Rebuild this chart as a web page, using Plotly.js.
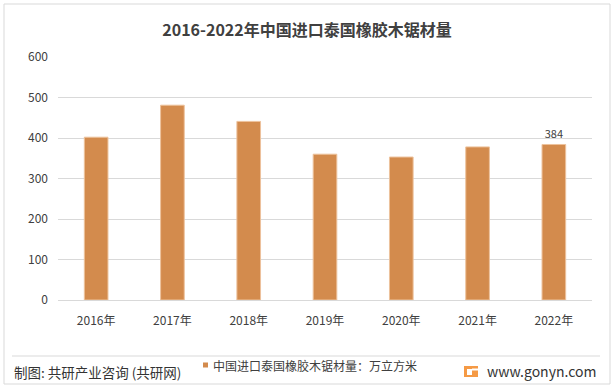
<!DOCTYPE html>
<html>
<head>
<meta charset="utf-8">
<script src="https://cdn.plot.ly/plotly-3.0.1.min.js"></script>
<style>html,body{margin:0;padding:0;background:#fff;}#chart{width:614px;height:389px;}</style>
</head>
<body>
<div id="chart"></div>
<script>
const years = ['2016年','2017年','2018年','2019年','2020年','2021年','2022年'];
const volumes = [402, 481, 441, 360, 353, 378, 384];
const seriesName = '中国进口泰国橡胶木锯材量：万立方米';
const titleText = '2016-2022年中国进口泰国橡胶木锯材量';
const sourceText = '制图: 共研产业咨询 (共研网)';
const siteText = 'www.gonyn.com';
const yTicks = [0, 100, 200, 300, 400, 500, 600];

const W = 614, H = 389;
const L = 58, R = 592, T = 57, B = 300;
const px2x = p => (p - L) / (R - L);
const py2y = p => (B - p) / (B - T);
const FONT = '"Noto Sans CJK SC", "Noto Sans", sans-serif';
const BAR = '#D38B4D';

const labels = volumes.map((v, i) => i === volumes.length - 1 ? String(v) : '');

const trace = {
  type: 'bar',
  x: years,
  y: volumes,
  name: seriesName,
  showlegend: false,
  width: 0.31,
  marker: {color: BAR, line: {color: '#EDC29C', width: 1}},
  text: labels,
  textposition: 'outside',
  cliponaxis: false,
  textfont: {family: FONT, size: 11, color: '#404040'},
  hoverinfo: 'skip'
};

const layout = {
  width: W, height: H,
  margin: {l: L, r: W - R, t: T, b: H - B, pad: 0},
  paper_bgcolor: '#ffffff',
  plot_bgcolor: '#ffffff',
  font: {family: FONT, color: '#595959'},
  title: {
    text: '<b>' + titleText + '</b>',
    x: 0.5, xref: 'container', xanchor: 'center',
    y: 1 - 30 / H, yref: 'container', yanchor: 'middle',
    font: {family: FONT, size: 16, color: '#404040'}
  },
  xaxis: {
    type: 'category',
    showgrid: false, showline: false, zeroline: false,
    ticks: '',
    tickfont: {family: FONT, size: 12, color: '#404040'},
    ticklabelstandoff: 12,
    fixedrange: true
  },
  yaxis: {
    range: [0, 600],
    tickvals: yTicks,
    showgrid: true, gridcolor: '#D9D9D9', gridwidth: 1,
    zeroline: true, zerolinecolor: '#D9D9D9', zerolinewidth: 1,
    showline: false, ticks: '',
    tickfont: {family: FONT, size: 12, color: '#404040'},
    ticklabelstandoff: 9,
    fixedrange: true
  },
  showlegend: false,
  shapes: [
    {type: 'rect', xref: 'paper', yref: 'paper',
     x0: px2x(4), x1: px2x(610), y0: py2y(4), y1: py2y(384),
     line: {color: '#D9D9D9', width: 1}, fillcolor: 'rgba(0,0,0,0)', layer: 'below'},
    {type: 'line', xref: 'paper', yref: 'paper',
     x0: px2x(12), x1: px2x(600), y0: py2y(356), y1: py2y(356),
     line: {color: '#D9D9D9', width: 1}},
    // legend swatch
    {type: 'rect', xref: 'paper', yref: 'paper',
     x0: px2x(203), x1: px2x(208), y0: py2y(362.5), y1: py2y(367.5),
     line: {width: 0}, fillcolor: BAR},
    // logo
    {type: 'rect', xref: 'paper', yref: 'paper',
     x0: px2x(464), x1: px2x(478), y0: py2y(366), y1: py2y(377),
     line: {width: 0}, fillcolor: '#F59A45'},
    {type: 'rect', xref: 'paper', yref: 'paper',
     x0: px2x(467), x1: px2x(472), y0: py2y(369), y1: py2y(375),
     line: {width: 0}, fillcolor: '#ffffff'},
    {type: 'rect', xref: 'paper', yref: 'paper',
     x0: px2x(472), x1: px2x(478), y0: py2y(368.5), y1: py2y(370.5),
     line: {width: 0}, fillcolor: '#ffffff'}
  ],
  annotations: [
    {text: seriesName, xref: 'paper', yref: 'paper',
     x: px2x(211), y: py2y(365), xanchor: 'left', yanchor: 'middle',
     showarrow: false, font: {family: FONT, size: 12, color: '#404040'}},
    {text: sourceText, xref: 'paper', yref: 'paper',
     x: px2x(12), y: py2y(372), xanchor: 'left', yanchor: 'middle',
     showarrow: false, font: {family: FONT, size: 13.5, color: '#333333'}},
    {text: siteText, xref: 'paper', yref: 'paper',
     x: px2x(598), y: py2y(371), xanchor: 'right', yanchor: 'middle',
     showarrow: false, font: {family: FONT, size: 14, color: '#333333'}}
  ]
};

Plotly.newPlot('chart', [trace], layout, {displayModeBar: false, staticPlot: true});
</script>
</body>
</html>
